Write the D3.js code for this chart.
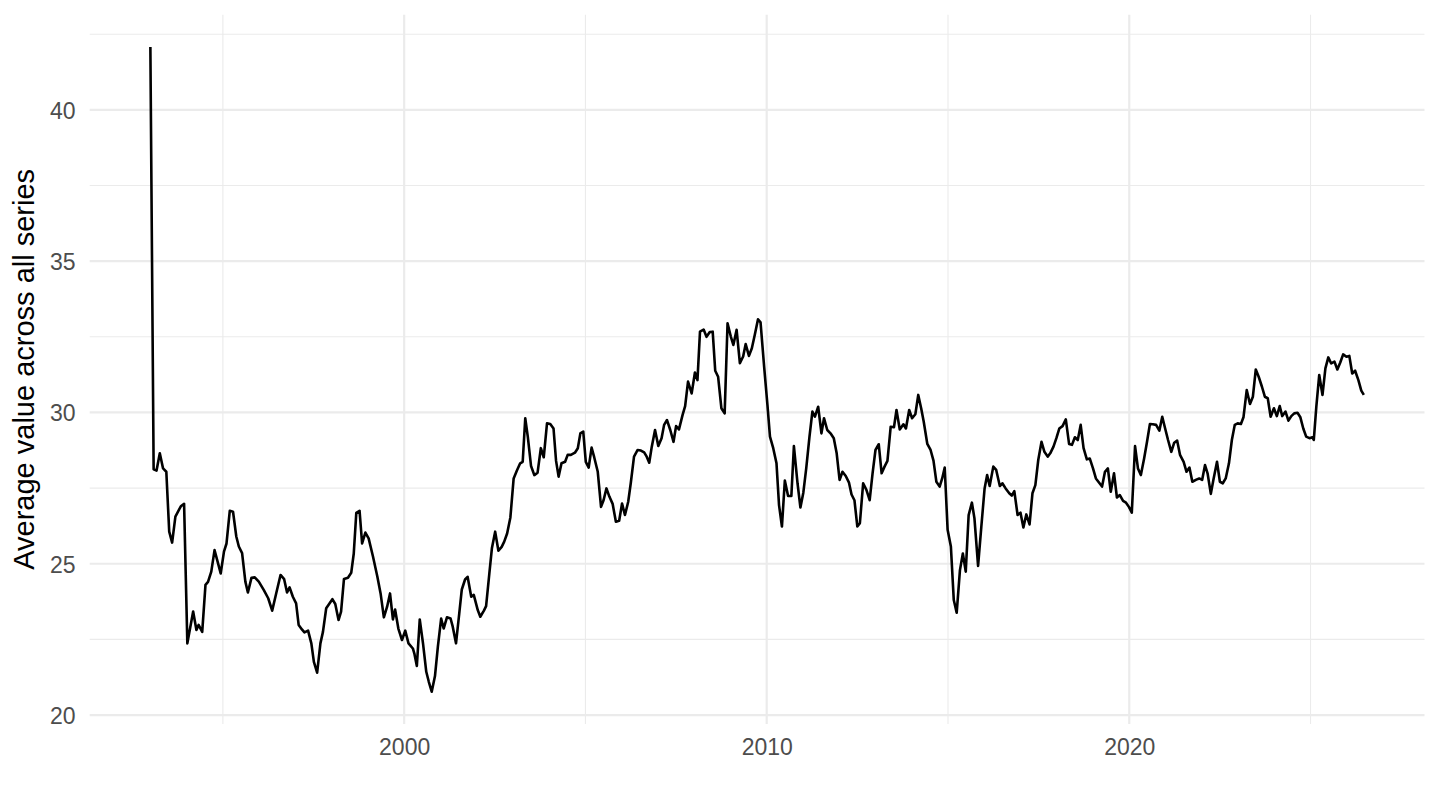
<!DOCTYPE html>
<html>
<head>
<meta charset="utf-8">
<script src="https://cdn.jsdelivr.net/npm/d3@7"></script>
<style>
  html, body { margin: 0; padding: 0; background: #fff; }
  svg { display: block; }
  text { font-family: "Liberation Sans", Arial, Helvetica, sans-serif; }
</style>
</head>
<body>
<svg id="chart" width="1440" height="810"></svg>
<script>
// ---- Data (decimal year, average value) ----
const years = [
1993.00,1993.09,1993.17,1993.26,1993.35,1993.44,1993.52,1993.60,1993.69,1993.84,1993.93,
1994.02,1994.18,1994.27,1994.33,1994.43,1994.52,1994.59,1994.68,1994.77,1994.94,
1995.03,1995.10,1995.19,1995.28,1995.37,1995.44,1995.53,1995.62,1995.69,1995.79,1995.88,1995.99,
1996.13,1996.25,1996.36,1996.47,1996.59,1996.69,1996.77,1996.84,1996.93,
1997.02,1997.09,1997.18,1997.25,1997.35,1997.44,1997.51,1997.60,1997.69,1997.76,1997.85,
1998.02,1998.10,1998.19,1998.26,1998.34,1998.45,1998.54,1998.61,1998.68,1998.77,1998.84,1998.93,
1999.02,1999.14,1999.26,1999.35,1999.44,1999.53,1999.61,1999.69,1999.75,1999.84,1999.94,
2000.03,2000.12,2000.24,2000.28,2000.35,2000.43,2000.52,2000.61,2000.68,2000.76,2000.85,2000.93,
2001.02,2001.09,2001.18,2001.28,2001.34,2001.43,2001.52,2001.59,2001.68,2001.75,2001.85,2001.92,
2002.03,2002.10,2002.20,2002.26,2002.35,2002.42,2002.51,2002.60,2002.69,2002.76,2002.84,2002.93,
2003.02,2003.11,2003.20,2003.27,2003.34,2003.41,2003.50,2003.59,2003.68,2003.77,2003.85,2003.94,
2004.03,2004.12,2004.19,2004.26,2004.34,2004.44,2004.51,2004.60,2004.71,2004.79,2004.86,2004.94,
2005.01,2005.09,2005.17,2005.24,2005.34,2005.43,2005.50,2005.58,2005.66,2005.75,2005.84,2005.93,
2006.01,2006.09,2006.18,2006.25,2006.34,2006.44,2006.53,2006.62,2006.69,2006.76,2006.83,2006.92,
2007.01,2007.10,2007.17,2007.25,2007.34,2007.43,2007.50,2007.58,2007.68,2007.75,2007.83,2007.93,
2008.02,2008.09,2008.16,2008.26,2008.34,2008.43,2008.51,2008.58,2008.66,2008.75,2008.84,2008.92,
2009.01,2009.08,2009.17,2009.26,2009.35,2009.42,2009.51,2009.59,2009.67,2009.76,2009.83,2009.93,
2010.02,2010.09,2010.18,2010.27,2010.34,2010.42,2010.50,2010.59,2010.68,2010.75,2010.85,2010.93,
2011.01,2011.09,2011.18,2011.26,2011.33,2011.42,2011.51,2011.58,2011.67,2011.76,2011.85,2011.93,
2012.01,2012.09,2012.18,2012.27,2012.34,2012.42,2012.50,2012.57,2012.66,2012.75,2012.84,2012.92,
2013.00,2013.09,2013.17,2013.25,2013.33,2013.42,2013.51,2013.58,2013.67,2013.77,2013.84,2013.93,
2014.01,2014.10,2014.18,2014.26,2014.33,2014.43,2014.52,2014.60,2014.68,2014.77,2014.84,2014.91,2014.99,
2015.08,2015.16,2015.24,2015.33,2015.41,2015.49,2015.57,2015.66,2015.73,2015.83,2015.92,
2016.01,2016.08,2016.15,2016.25,2016.33,2016.43,2016.50,2016.59,2016.69,2016.76,2016.83,2016.92,
2017.00,2017.08,2017.16,2017.25,2017.33,2017.41,2017.49,2017.58,2017.66,2017.75,2017.82,2017.91,2017.99,
2018.07,2018.16,2018.25,2018.34,2018.42,2018.50,2018.58,2018.66,2018.74,2018.83,2018.91,
2019.00,2019.08,2019.17,2019.25,2019.33,2019.41,2019.49,2019.58,2019.66,2019.74,2019.83,2019.91,2019.99,
2020.07,2020.16,2020.24,2020.32,2020.41,2020.49,2020.57,2020.65,2020.74,2020.83,2020.91,2020.99,
2021.07,2021.16,2021.24,2021.32,2021.40,2021.50,2021.58,2021.66,2021.74,2021.85,2021.93,
2022.01,2022.09,2022.16,2022.25,2022.32,2022.42,2022.50,2022.58,2022.66,2022.75,2022.83,2022.91,2022.99,
2023.08,2023.15,2023.24,2023.33,2023.41,2023.49,2023.57,2023.66,2023.74,2023.82,2023.90,2023.99,
2024.07,2024.15,2024.22,2024.31,2024.39,2024.47,2024.55,2024.64,2024.72,2024.80,2024.88,2024.97,
2025.05,2025.09,2025.16,2025.24,2025.33,2025.41,2025.49,2025.57,2025.66,2025.74,2025.82,2025.90,2025.99,
2026.07,2026.15,2026.23,2026.32,2026.40,2026.47
];
const values = [
42.08,28.12,28.08,28.65,28.15,28.04,26.06,25.70,26.56,26.90,26.98,
22.37,23.42,22.81,22.98,22.75,24.30,24.40,24.74,25.45,24.68,
25.40,25.67,26.75,26.72,25.90,25.57,25.35,24.41,24.05,24.54,24.55,24.41,
24.13,23.86,23.45,24.02,24.63,24.49,24.05,24.22,23.91,
23.69,22.98,22.83,22.73,22.79,22.37,21.76,21.40,22.37,22.75,23.53,
23.83,23.67,23.14,23.42,24.50,24.54,24.70,25.34,26.68,26.75,25.67,26.03,
25.84,25.24,24.58,24.02,23.23,23.58,24.02,23.16,23.49,22.86,22.48,
22.79,22.37,22.20,22.04,21.62,23.16,22.37,21.43,21.10,20.77,21.29,22.26,
23.19,22.86,23.23,23.19,22.92,22.37,23.36,24.15,24.48,24.57,23.91,23.97,
23.47,23.25,23.45,23.60,24.68,25.51,26.06,25.43,25.56,25.73,26.00,26.53,
27.82,28.08,28.32,28.37,29.81,29.20,28.23,27.93,28.01,28.82,28.52,29.64,
29.62,29.47,28.40,27.88,28.32,28.37,28.60,28.60,28.67,28.82,29.31,29.37,
28.37,28.18,28.84,28.53,28.04,26.88,27.10,27.49,27.22,26.98,26.39,26.42,
26.99,26.61,27.05,27.66,28.54,28.76,28.74,28.68,28.54,28.34,28.87,29.42,
28.89,29.15,29.59,29.75,29.42,29.03,29.55,29.44,29.92,30.21,31.02,30.63,
31.32,31.07,32.67,32.74,32.50,32.66,32.67,31.38,31.18,30.14,29.97,32.95,
32.51,32.23,32.73,31.63,31.85,32.26,31.87,32.12,32.56,33.08,32.98,31.50,
30.25,29.20,28.82,28.32,26.94,26.23,27.75,27.24,27.24,28.89,27.66,26.86,
27.35,28.15,29.20,30.03,29.86,30.19,29.31,29.81,29.42,29.31,29.15,28.65,
27.77,28.04,27.90,27.68,27.29,27.10,26.23,26.34,27.66,27.44,27.10,27.99,
28.76,28.95,27.99,28.21,28.40,29.53,29.51,30.08,29.44,29.61,29.47,30.08,
29.81,29.94,30.58,30.14,29.70,28.96,28.76,28.41,27.71,27.55,27.82,28.18,26.12,
25.57,23.80,23.38,24.79,25.34,24.74,26.61,27.02,26.50,24.93,26.23,
27.49,27.93,27.57,28.21,28.10,27.57,27.66,27.49,27.33,27.25,27.40,26.61,
26.69,26.20,26.63,26.30,27.33,27.60,28.43,29.03,28.70,28.54,28.65,28.87,29.15,
29.47,29.55,29.77,28.96,28.93,29.18,29.09,29.59,28.82,28.45,28.48,
28.15,27.82,27.68,27.55,28.04,28.15,27.38,27.99,27.19,27.27,27.08,27.02,26.88,
26.69,28.89,28.15,27.93,28.48,29.03,29.62,29.61,29.59,29.40,29.86,29.47,
29.09,28.70,29.00,29.07,28.60,28.37,28.04,28.18,27.71,27.78,27.82,
27.77,28.26,27.99,27.31,27.77,28.37,27.71,27.66,27.82,28.32,29.09,29.59,29.64,
29.62,29.84,30.74,30.28,30.52,31.42,31.18,30.85,30.52,30.47,29.86,30.14,
29.88,30.21,29.88,30.03,29.73,29.88,29.97,29.99,29.84,29.47,29.20,29.15,
29.18,29.09,30.19,31.24,30.58,31.46,31.82,31.62,31.68,31.42,31.65,31.92,31.84,
31.87,31.29,31.38,31.07,30.72,30.58
];
const yMajorTicks = [20, 25, 30, 35, 40];
const yMinorTicks = [22.5, 27.5, 32.5, 37.5, 42.5];
const xMajorTicks = [2000, 2010, 2020];
const xMinorTicks = [1995, 2005, 2015, 2025];
const yTitle = "Average value across all series";

// ---- Build ----
const data = years.map((t, i) => ({ t, v: values[i] }));
const svg = d3.select("#chart");

const panel = { left: 89.7, right: 1424.5, top: 14.7, bottom: 724 };

function expand(ext) {
  const r = ext[1] - ext[0];
  return [ext[0] - 0.05 * r, ext[1] + 0.05 * r];
}
const x = d3.scaleLinear().domain(expand(d3.extent(years))).range([panel.left, panel.right]);
const y = d3.scaleLinear().domain(expand(d3.extent(values))).range([panel.bottom, panel.top]);

const grid = svg.append("g");
// minor gridlines
grid.selectAll(".ymin").data(yMinorTicks.filter(d => y(d) >= panel.top - 1)).enter().append("line")
  .attr("x1", panel.left).attr("x2", panel.right)
  .attr("y1", d => y(d)).attr("y2", d => y(d))
  .attr("stroke", "#EBEBEB").attr("stroke-width", 1.1);
grid.selectAll(".xmin").data(xMinorTicks).enter().append("line")
  .attr("y1", panel.top).attr("y2", panel.bottom)
  .attr("x1", d => x(d)).attr("x2", d => x(d))
  .attr("stroke", "#EBEBEB").attr("stroke-width", 1.1);
// major gridlines
grid.selectAll(".ymaj").data(yMajorTicks).enter().append("line")
  .attr("x1", panel.left).attr("x2", panel.right)
  .attr("y1", d => y(d)).attr("y2", d => y(d))
  .attr("stroke", "#EBEBEB").attr("stroke-width", 2.2);
grid.selectAll(".xmaj").data(xMajorTicks).enter().append("line")
  .attr("y1", panel.top).attr("y2", panel.bottom)
  .attr("x1", d => x(d)).attr("x2", d => x(d))
  .attr("stroke", "#EBEBEB").attr("stroke-width", 2.2);

// axes (labels only, like theme_minimal)
const yAxis = d3.axisLeft(y).tickValues(yMajorTicks).tickSize(0).tickPadding(0).tickFormat(d3.format("d"));
const gy = svg.append("g").attr("transform", `translate(${75.5},0)`).call(yAxis);
gy.select(".domain").remove();
gy.selectAll("text").attr("fill", "#4D4D4D").style("font-size", "23px")
  .attr("x", 0).attr("dy", "0.36em").attr("text-anchor", "end");

const xAxis = d3.axisBottom(x).tickValues(xMajorTicks).tickSize(0).tickPadding(0).tickFormat(d3.format("d"));
const gx = svg.append("g").attr("transform", `translate(0,${738})`).call(xAxis);
gx.select(".domain").remove();
gx.selectAll("text").attr("fill", "#4D4D4D").style("font-size", "23px")
  .attr("y", 0).attr("dy", "0.75em");

// line
const line = d3.line().x(d => x(d.t)).y(d => y(d.v));
svg.append("path").datum(data)
  .attr("d", line)
  .attr("fill", "none")
  .attr("stroke", "#000")
  .attr("stroke-width", 2.6)
  .attr("stroke-linejoin", "round");

// y title
svg.append("text")
  .attr("transform", `translate(33.5,${(panel.top + panel.bottom) / 2}) rotate(-90)`)
  .attr("text-anchor", "middle")
  .attr("fill", "#000")
  .style("font-size", "29px")
  .text(yTitle);
</script>
</body>
</html>
